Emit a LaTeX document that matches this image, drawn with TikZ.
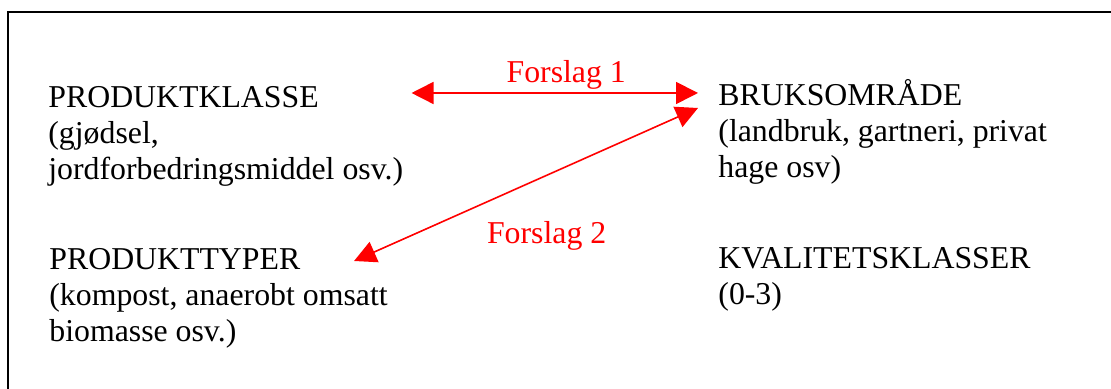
\documentclass[tikz,border=0pt]{standalone}
\usepackage{fontspec}
\setmainfont{Liberation Serif}
\usetikzlibrary{arrows.meta}
\tikzset{>={Triangle[length=11pt,width=11pt]}}
\tikzstyle{entry}=[anchor=base west,align=left,inner sep=0pt,font=\fontsize{15.9}{18}\selectfont]
\tikzstyle{forslag}=[draw=red,line width=0.8pt,<->]
\tikzstyle{lbl}=[text=red,anchor=base,inner sep=0pt,font=\fontsize{15.9}{18}\selectfont]

\begin{document}
\begin{tikzpicture}[x=0.5pt,y=0.5pt]
\clip (0,0) rectangle (1111,389);
\draw[line width=1pt] (8,377) rectangle (1130,-20);
\node[entry] (klasse) at (48,209) {PRODUKTKLASSE\\(gjødsel,\\jordforbedringsmiddel osv.)};
\node[entry] (omraade) at (718,211) {BRUKSOMRÅDE\\(landbruk, gartneri, privat\\hage osv)};
\node[entry] (typer) at (49,47) {PRODUKTTYPER\\(kompost, anaerobt omsatt\\biomasse osv.)};
\node[entry] (kvalitet) at (718,84) {KVALITETSKLASSER\\(0-3)};
% forslag 1 og 2
\draw[forslag] ([shift={(8,87)}]klasse.base east) -- ([shift={(-20,85)}]omraade.base west)
  node[lbl,pos=0.54,yshift=5pt] {Forslag 1};
\draw[forslag] ([shift={(-20,70)}]omraade.base west) -- ([shift={(-34,81)}]typer.base east)
  node[lbl,pos=0.44,yshift=-34pt] {Forslag 2};
\end{tikzpicture}
\end{document}
